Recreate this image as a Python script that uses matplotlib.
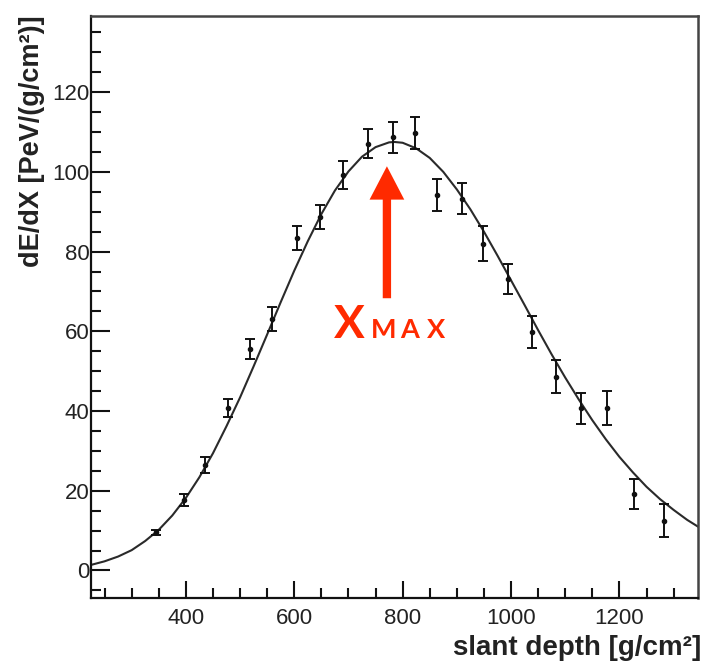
import numpy as np
import matplotlib.pyplot as plt
from matplotlib.ticker import MultipleLocator

depth = [345, 397, 435, 478, 518, 559, 605, 647, 690, 737, 782, 822,
         864, 909, 949, 995, 1039, 1083, 1130, 1177, 1226, 1283]
dedx = [9.6, 17.8, 26.5, 40.8, 55.5, 63.2, 83.3, 88.6, 99.1, 107.1, 108.7, 109.7,
        94.1, 93.3, 82.0, 73.2, 59.8, 48.6, 40.7, 40.8, 19.2, 12.5]
dedx_err = [0.6, 1.5, 2.0, 2.2, 2.5, 3.0, 3.0, 3.0, 3.5, 3.6, 3.9, 4.0,
            4.0, 3.8, 4.3, 3.8, 4.0, 4.1, 3.9, 4.2, 3.8, 4.2]

# fitted profile curve
fit_x = [225, 250, 275, 300, 325, 350, 375, 400, 425, 450, 475, 500, 525, 550,
         575, 600, 625, 650, 675, 700, 725, 750, 775, 785, 800, 825, 850, 875,
         900, 925, 950, 975, 1000, 1025, 1050, 1075, 1100, 1125, 1150, 1175,
         1200, 1225, 1250, 1275, 1300, 1325, 1345]
fit_y = [1.4, 2.3, 3.5, 5.1, 7.4, 10.2, 13.8, 18.2, 23.4, 29.4, 36.2, 43.4,
         51.2, 59.2, 67.3, 75.2, 82.6, 89.4, 95.3, 100.1, 103.8, 106.2, 107.4,
         107.5, 107.3, 105.9, 103.5, 100.0, 95.6, 90.6, 85.0, 79.0, 72.8, 66.6,
         60.3, 54.2, 48.4, 42.9, 37.7, 32.9, 28.5, 24.6, 21.0, 17.9, 15.2,
         12.7, 11.0]

W, H = 704, 661
plt.rcParams['font.family'] = ['Liberation Sans', 'DejaVu Sans']

fig = plt.figure(figsize=(W / 100, H / 100), dpi=100)
ax = fig.add_axes([91 / W, 1 - 598 / H, 607 / W, 582 / H])


def px(x, y):
    return x / W, 1 - y / H


ax.plot(fit_x, fit_y, color='#2a2a2a', lw=1.5, zorder=2)
ax.errorbar(depth, dedx, yerr=dedx_err, fmt='o', ms=3, color='#111111',
            ecolor='#111111', elinewidth=1.4, capsize=3.5, capthick=1.4, zorder=3)

ax.set_xlim(225, 1345)
ax.set_ylim(-6.9, 139.1)
ax.xaxis.set_major_locator(MultipleLocator(200))
ax.xaxis.set_minor_locator(MultipleLocator(50))
ax.yaxis.set_major_locator(MultipleLocator(20))
ax.yaxis.set_minor_locator(MultipleLocator(5))
ax.tick_params(which='both', direction='in', top=False, right=False,
               width=1.5, colors='#111111', labelcolor='#222222', labelsize=16)
ax.tick_params(axis='y', which='major', length=14, pad=1)
ax.tick_params(axis='y', which='minor', length=7)
ax.tick_params(axis='x', which='major', length=12, pad=7)
ax.tick_params(axis='x', which='minor', length=7)
for s in ['left', 'bottom']:
    ax.spines[s].set_linewidth(1.6)
    ax.spines[s].set_color('#111111')
for s in ['top', 'right']:
    ax.spines[s].set_linewidth(1.8)
    ax.spines[s].set_color('#444444')

fig.text(*px(45, 15), 'dE/dX [PeV/(g/cm²)]', rotation=90, ha='right', va='bottom',
         rotation_mode='anchor', fontsize=19.5, fontweight='bold', color='#222222')
fig.text(*px(701, 655), 'slant depth [g/cm²]', ha='right', va='baseline',
         fontsize=20, fontweight='bold', color='#222222')

# Xmax arrow and label
red = '#ff2a00'
ax.annotate('', xy=(771, 101.4), xytext=(771, 68.3),
            arrowprops=dict(arrowstyle='simple,head_width=25,head_length=24,tail_width=6',
                            mutation_scale=1, color=red, shrinkA=0, shrinkB=0, lw=0))
fig.text(*px(349, 338), 'X', ha='center', va='baseline', fontsize=33,
         fontweight='bold', color=red, family='Lato')
for letter, xc in [('M', 383.5), ('A', 410), ('X', 436.5)]:
    fig.text(*px(xc, 338), letter, ha='center', va='baseline', fontsize=19.5,
             fontweight='bold', color=red, family='Lato')

fig.savefig('out.png', dpi=100, facecolor='white')
